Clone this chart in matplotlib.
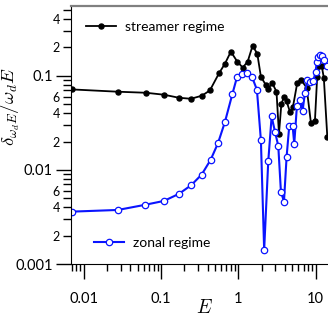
import matplotlib
matplotlib.use("Agg")
import matplotlib.pyplot as plt
from matplotlib.ticker import LogLocator, FixedLocator, FixedFormatter, NullFormatter

plt.rcParams['font.family'] = ['Lato', 'DejaVu Sans']
plt.rcParams['mathtext.fontset'] = 'cm'

# streamer regime (black, filled)
E_streamer = [0.0070, 0.0275, 0.0635, 0.109, 0.170, 0.243, 0.337, 0.428, 0.561, 0.670,
              0.80, 0.97, 1.14, 1.32, 1.53, 1.76, 1.96, 2.26, 2.44, 2.75,
              3.12, 3.36, 3.61, 3.93, 4.22, 4.66, 5.10, 5.80, 6.47, 7.67,
              8.71, 9.82, 10.5, 11.2, 12.0, 12.8, 14.2]
d_streamer = [0.0715, 0.0676, 0.0659, 0.0628, 0.0583, 0.0569, 0.0613, 0.0698, 0.1058, 0.134,
              0.180, 0.141, 0.122, 0.141, 0.208, 0.171, 0.0976, 0.0802, 0.0727, 0.0836,
              0.0676, 0.0242, 0.0504, 0.0598, 0.0533, 0.0414, 0.0468, 0.0842, 0.0907, 0.0746,
              0.0316, 0.0332, 0.0976, 0.128, 0.128, 0.0952, 0.0225]

# zonal regime (blue, open)
E_zonal = [0.0070, 0.0275, 0.0617, 0.109, 0.170, 0.245, 0.335, 0.438, 0.545, 0.670,
           0.834, 0.96, 1.11, 1.29, 1.50, 1.74, 1.96, 2.16, 2.44, 2.70,
           2.98, 3.29, 3.56, 3.90, 4.22, 4.56, 5.05, 5.30, 5.74, 6.37,
           6.80, 7.29, 7.81, 8.46, 9.33, 10.0, 10.4, 10.7, 11.4, 12.2,
           12.8, 13.9]
d_zonal = [0.00360, 0.00375, 0.00425, 0.00468, 0.00556, 0.00687, 0.00891, 0.0128, 0.0192, 0.0322,
           0.0632, 0.0964, 0.105, 0.108, 0.0976, 0.0710, 0.0206, 0.00141, 0.0123, 0.0369,
           0.0255, 0.0180, 0.00588, 0.00460, 0.0138, 0.0289, 0.0289, 0.0189, 0.0480, 0.0556,
           0.0425, 0.0659, 0.0891, 0.0863, 0.0870, 0.110, 0.141, 0.159, 0.165, 0.161,
           0.146, 0.126]

y_minor_labels = {0.002: "2", 0.004: "4", 0.006: "6",
                  0.02: "2", 0.04: "4", 0.06: "6",
                  0.2: "2", 0.4: "4"}

fig = plt.figure(figsize=(3.28, 3.17), dpi=100)
ax = fig.add_axes([71/328, 53/317, 257/328, 258/317])

l1, = ax.plot(E_streamer, d_streamer, '-o', color='black', lw=1.3, ms=3.6,
              mfc='black', mec='black', label='streamer regime')
l2, = ax.plot(E_zonal, d_zonal, '-o', color='#0a14ff', lw=1.5, ms=4.6,
              mfc='white', mec='#0a14ff', mew=0.9, label='zonal regime')

ax.set_xscale('log')
ax.set_yscale('log')
ax.set_xlim(0.0068, 14.5)
ax.set_ylim(0.001, 0.55)

ax.xaxis.set_major_locator(FixedLocator([0.01, 0.1, 1, 10]))
ax.xaxis.set_major_formatter(FixedFormatter(['0.01', '0.1', '1', '10']))
ax.xaxis.set_minor_locator(LogLocator(base=10, subs=range(2, 10)))
ax.xaxis.set_minor_formatter(NullFormatter())

ax.yaxis.set_major_locator(FixedLocator([0.001, 0.01, 0.1]))
ax.yaxis.set_major_formatter(FixedFormatter(['0.001', '0.01', '0.1']))
yminor = [m * d for d in (0.001, 0.01, 0.1) for m in range(2, 10)]
ax.yaxis.set_minor_locator(FixedLocator(yminor))
ax.yaxis.set_minor_formatter(FixedFormatter([y_minor_labels.get(round(v, 6), '') for v in yminor]))

ax.tick_params(axis='x', which='major', direction='out', length=11, width=1, labelsize=10.5, pad=9)
ax.tick_params(axis='x', which='minor', direction='out', length=5, width=1)
ax.tick_params(axis='y', which='major', direction='out', length=11, width=1, labelsize=10.5, pad=2)
ax.tick_params(axis='y', which='minor', direction='out', length=6, width=1, labelsize=9, pad=2)

ax.spines['right'].set_visible(False)
ax.spines['top'].set_color('#808080')
ax.spines['top'].set_linewidth(1.6)

ax.set_xlabel(r'$E$', fontsize=14)
ax.xaxis.set_label_coords(0.52, -0.13)
ax.set_ylabel(r'$\delta_{\omega_d E}/\omega_d E$', fontsize=13.5)
ax.yaxis.set_label_coords(-0.19, 0.61)

leg1 = ax.legend(handles=[l1], loc='center left', bbox_to_anchor=(0.058, 0.919),
                 frameon=False, fontsize=10, borderpad=0, borderaxespad=0,
                 handlelength=2.2, handletextpad=0.6)
ax.add_artist(leg1)
ax.legend(handles=[l2], loc='center left', bbox_to_anchor=(0.088, 0.081),
          frameon=False, fontsize=10, borderpad=0, borderaxespad=0,
          handlelength=2.2, handletextpad=0.6)

fig.savefig('out.png', dpi=100)
